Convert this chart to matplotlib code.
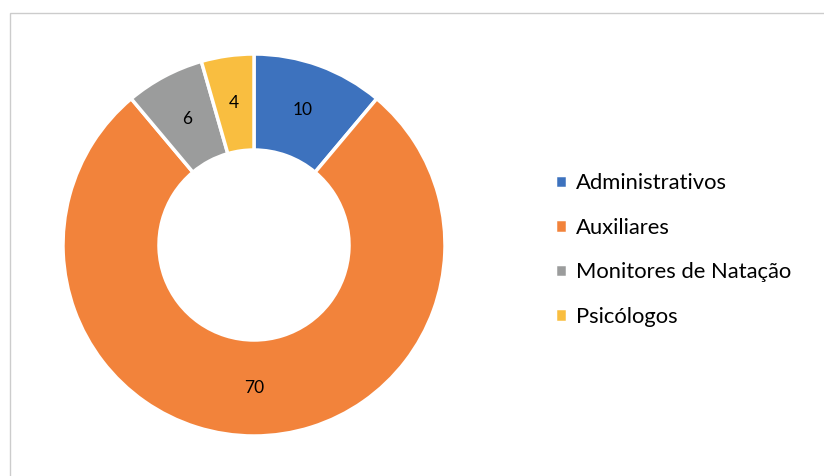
import matplotlib.pyplot as plt
from matplotlib.patches import Rectangle

# dados
categorias = ['Administrativos', 'Auxiliares', 'Monitores de Natação', 'Psicólogos']
valores = [10, 70, 6, 4]
cores = ['#3D72BE', '#F2833B', '#9B9C9C', '#F9BE40']

plt.rcParams['font.family'] = ['Lato', 'DejaVu Sans']

fig = plt.figure(figsize=(8.24, 4.76), dpi=100)
ax = fig.add_axes([0, 0, 1, 1])
ax.set_xlim(0, 824)
ax.set_ylim(0, 476)
ax.set_aspect('equal')
ax.axis('off')

# moldura (só topo e esquerda visíveis)
ax.add_patch(Rectangle((10, -20), 840, 483, fill=False, edgecolor='#CCCCCC', linewidth=1))

total = sum(valores)
wedges, textos, autotextos = ax.pie(
    valores, colors=cores, startangle=90, counterclock=False,
    center=(254, 231), radius=191,
    wedgeprops=dict(width=96, edgecolor='white', linewidth=2.5),
    autopct=lambda p: '{:.0f}'.format(p * total / 100),
    pctdistance=0.75, textprops=dict(fontsize=12.5, color='black'))
ax.set_xlim(0, 824)
ax.set_ylim(0, 476)

leg = ax.legend(wedges, categorias, loc='center left', bbox_to_anchor=(535 / 824, 1 - 250 / 476),
                frameon=False, fontsize=15.8, handlelength=0.55, handleheight=0.55,
                handletextpad=0.4, labelspacing=1.12)

fig.savefig('out.png', dpi=100)
